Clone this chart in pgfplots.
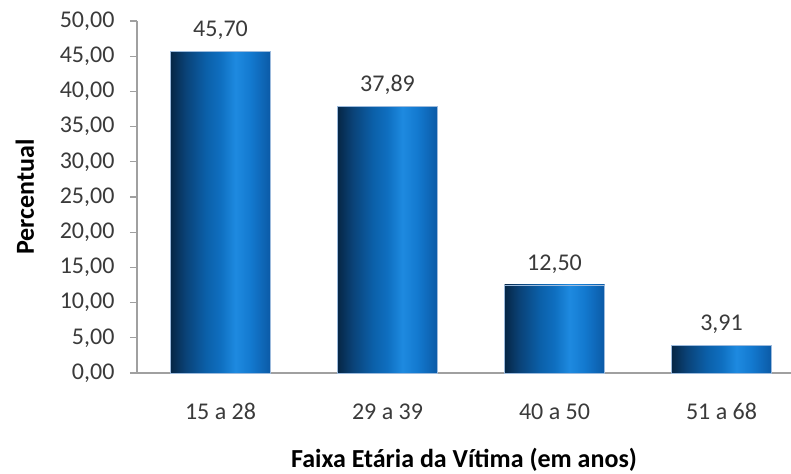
\documentclass[border=0pt]{standalone}
\usepackage{pgfplots}
\pgfplotsset{compat=1.18}
\usepackage{fontspec}
\setmainfont{Carlito}
\definecolor{c1}{HTML}{062645}
\definecolor{c2}{HTML}{0A4277}
\definecolor{c3}{HTML}{0B5FA8}
\definecolor{c4}{HTML}{0F6FC0}
\definecolor{c5}{HTML}{1E8AE0}
\definecolor{c6}{HTML}{1379CF}
\definecolor{c7}{HTML}{0B5AA6}
\definecolor{edge}{HTML}{9DBBDD}
\definecolor{axgray}{HTML}{A0A0A0}
\definecolor{txt}{HTML}{3A3A3A}
\pgfdeclarehorizontalshading{barshade}{100bp}{color(0bp)=(c1); color(25bp)=(c1); color(32.5bp)=(c2); color(42.5bp)=(c3); color(50bp)=(c4); color(57.5bp)=(c5); color(65bp)=(c6); color(75bp)=(c7); color(100bp)=(c7)}
\begin{document}
\begin{tikzpicture}[font=\fontsize{24}{28}\selectfont]
\begin{axis}[
  scale only axis,
  width=654pt, height=352pt,
  xmin=-0.5, xmax=3.416,
  ymin=0, ymax=50,
  ytick={0,5,...,50},
  xtick={0,1,2,3},
  xticklabels={15 a 28,29 a 39,40 a 50,51 a 68},
  axis lines*=left,
  axis line style={draw=axgray, line width=1.2pt},
  xtick style={draw=none},
  ytick style={draw=axgray, line width=1.2pt},
  tick align=outside,
  major tick length=7pt,
  /pgf/number format/assume math mode=true,
  /pgf/number format/.cd, fixed, fixed zerofill, precision=2, use comma,
  /pgfplots/.cd,
  yticklabel style={text=txt, xshift=-12pt},
  xticklabel style={text=txt, yshift=-20pt},
  ybar,
  bar width=100pt,
  bar shift=0pt,
  nodes near coords,
  every node near coord/.append style={text=txt, yshift=8pt},
  xlabel={\fontsize{26}{30}\selectfont\bfseries Faixa Etária da Vítima (em anos)},
  ylabel={\fontsize{26}{30}\selectfont\bfseries Percentual},
  xlabel style={at={(axis description cs:0.5,-0.247)}, anchor=center, text=black},
  ylabel style={at={(axis description cs:-0.1713,0.5)}, anchor=center, rotate=0, text=black},
  clip=false,
]
\addplot[shading=barshade, draw=edge, line width=0.5pt] coordinates {(0,45.70)};
\addplot[shading=barshade, draw=edge, line width=0.5pt] coordinates {(1,37.89)};
\addplot[shading=barshade, draw=edge, line width=0.5pt] coordinates {(2,12.50)};
\addplot[shading=barshade, draw=edge, line width=0.5pt] coordinates {(3,3.91)};
\end{axis}
\pgfresetboundingbox
\path[use as bounding box] (-137pt,-100pt) rectangle (654pt,373pt);
\end{tikzpicture}
\end{document}
